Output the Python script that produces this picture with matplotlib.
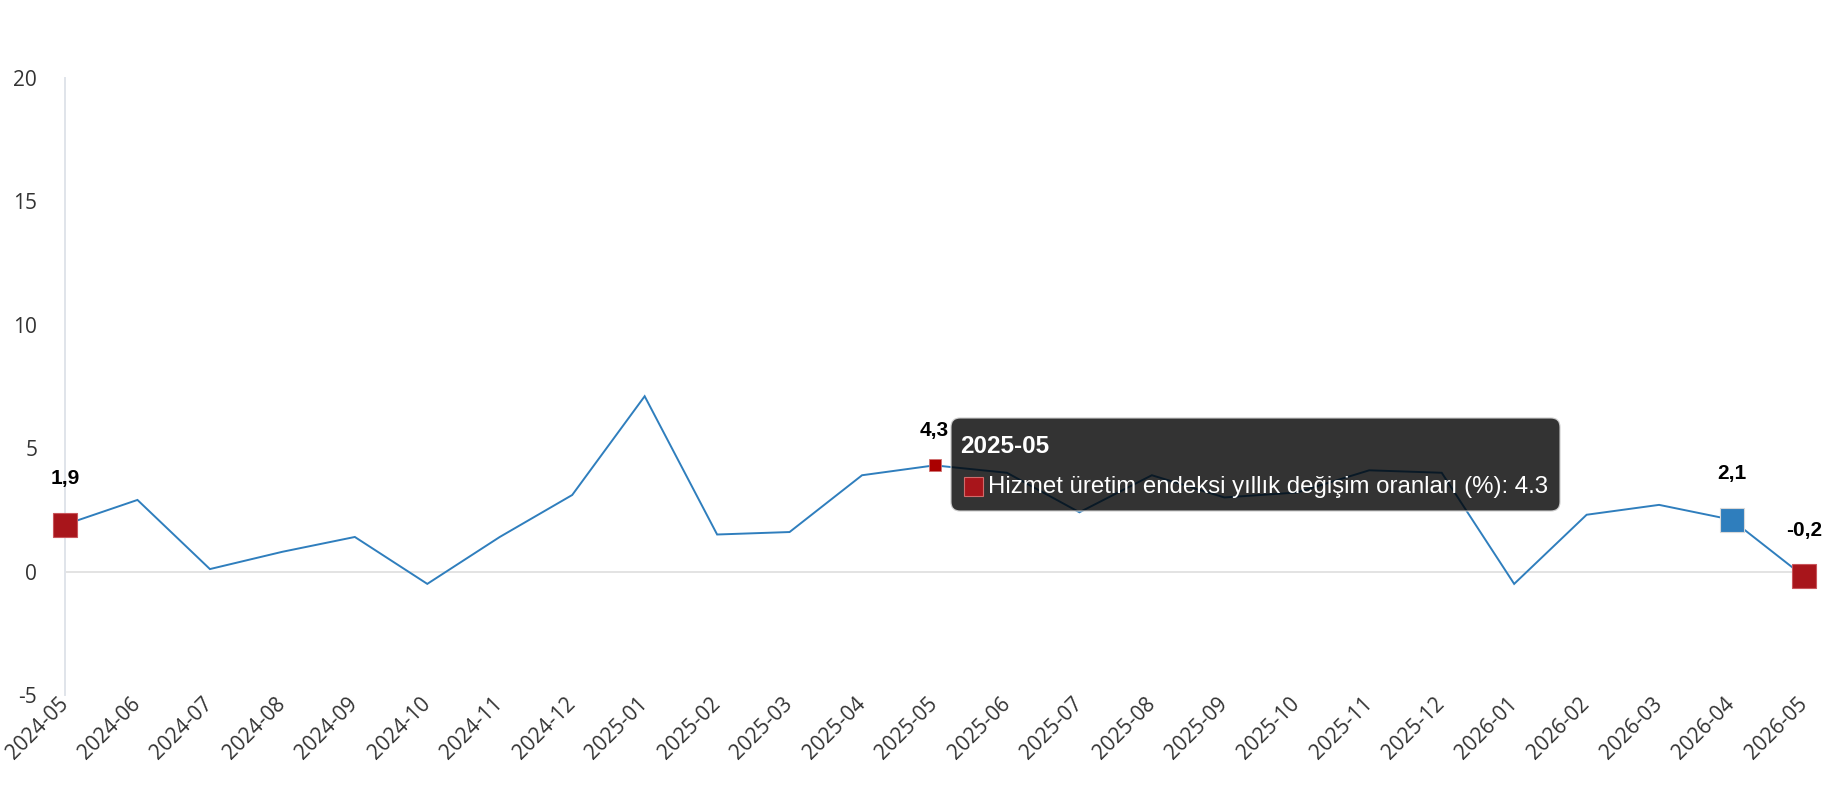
import numpy as np
import matplotlib
matplotlib.use("Agg")
import matplotlib.pyplot as plt
from matplotlib.patches import FancyBboxPatch, Rectangle
from matplotlib.transforms import IdentityTransform

# ---- data ----
months = ["2024-05", "2024-06", "2024-07", "2024-08", "2024-09", "2024-10",
          "2024-11", "2024-12", "2025-01", "2025-02", "2025-03", "2025-04",
          "2025-05", "2025-06", "2025-07", "2025-08", "2025-09", "2025-10",
          "2025-11", "2025-12", "2026-01", "2026-02", "2026-03", "2026-04",
          "2026-05"]
values = [1.9, 2.9, 0.1, 0.8, 1.4, -0.5,
          1.4, 3.1, 7.1, 1.5, 1.6, 3.9,
          4.3, 4.0, 2.4, 3.9, 3.0, 3.2,
          4.1, 4.0, -0.5, 2.3, 2.7, 2.1,
          -0.2]
series_name = "Hizmet üretim endeksi yıllık değişim oranları (%)"
y_ticks = [-5, 0, 5, 10, 15, 20]

# highlighted points (indices into the data)
highlight_idx = [0, 23, 24]
highlight_colors = ["#a8151b", "#2f7ebd", "#a8151b"]
hover_idx = 12

W, H = 1830, 800
fig = plt.figure(figsize=(W / 100, H / 100), dpi=100)
ax_left, ax_right, ax_top, ax_bottom = 65, 1804, 77.7, 695
ax = fig.add_axes([ax_left / W, 1 - ax_bottom / H,
                   (ax_right - ax_left) / W, (ax_bottom - ax_top) / H])

x = np.arange(len(months))
ax.set_xlim(0, len(months) - 1)
ax.set_ylim(min(y_ticks), max(y_ticks))

ax.axhline(0, color="#e3e3e3", lw=1.4, zorder=1)
ax.plot(x, values, color="#2f7ebd", lw=1.4, zorder=2, clip_on=False,
        solid_joinstyle="miter")

for i, c in zip(highlight_idx, highlight_colors):
    ax.plot([x[i]], [values[i]], marker="s", ms=17, color=c,
            mec="#d9d9d9" if c == "#2f7ebd" else "#c9555b", mew=0.8,
            zorder=4, clip_on=False)
    ax.annotate(f"{values[i]:.1f}".replace(".", ","), (x[i], values[i]),
                xytext=(0, 33), textcoords="offset points",
                ha="center", va="center", fontsize=15, fontweight="bold",
                family="Liberation Sans", color="#000000", zorder=5)

ax.plot([x[hover_idx]], [values[hover_idx]], marker="s", ms=9,
        color="#aa0000", mec="#d07070", mew=0.6, zorder=4)
ax.annotate(f"{values[hover_idx]:.1f}".replace(".", ","),
            (x[hover_idx], values[hover_idx]),
            xytext=(0, 25), textcoords="offset points",
            ha="center", va="center", fontsize=15, fontweight="bold",
            family="Liberation Sans", color="#000000", zorder=5)

for s in ["top", "right", "bottom"]:
    ax.spines[s].set_visible(False)
ax.spines["left"].set_color("#e0e4ea")
ax.spines["left"].set_linewidth(1.4)

ax.set_yticks(y_ticks)
ax.set_yticklabels([str(t) for t in y_ticks], fontsize=15,
                   family="Open Sans", color="#333333")
ax.set_xticks(x)
ax.set_xticklabels(months, rotation=45, ha="right", va="center",
                   rotation_mode="anchor", fontsize=15, family="Open Sans",
                   color="#333333")
ax.tick_params(axis="y", length=0, pad=20)
ax.tick_params(axis="x", length=0, pad=4)

# ---- tooltip (pixel coordinates) ----
tx0, tx1, ty_top, ty_bot = 951, 1560, 418, 511
box = FancyBboxPatch((tx0, H - ty_bot), tx1 - tx0, ty_bot - ty_top,
                     boxstyle="round,pad=0,rounding_size=9",
                     facecolor=(0, 0, 0, 0.8), edgecolor=(0.8, 0.8, 0.8, 1),
                     linewidth=0.8, transform=IdentityTransform(), zorder=10)
fig.add_artist(box)
fig.text(960, H - 452.7, months[hover_idx], transform=IdentityTransform(),
         ha="left", va="baseline", fontsize=17.5, fontweight="bold",
         family="Liberation Sans", color="white", zorder=11)
sq = Rectangle((964, H - 495.5), 19, 19, facecolor="#a8151b",
               edgecolor="#d06a6a", linewidth=0.8,
               transform=IdentityTransform(), zorder=11)
fig.add_artist(sq)
fig.text(988, H - 493.3, f"{series_name}: {values[hover_idx]}",
         transform=IdentityTransform(), ha="left", va="baseline",
         fontsize=17.3, family="Liberation Sans", color="white", zorder=11)

fig.savefig("out.png", dpi=100, facecolor="white")
